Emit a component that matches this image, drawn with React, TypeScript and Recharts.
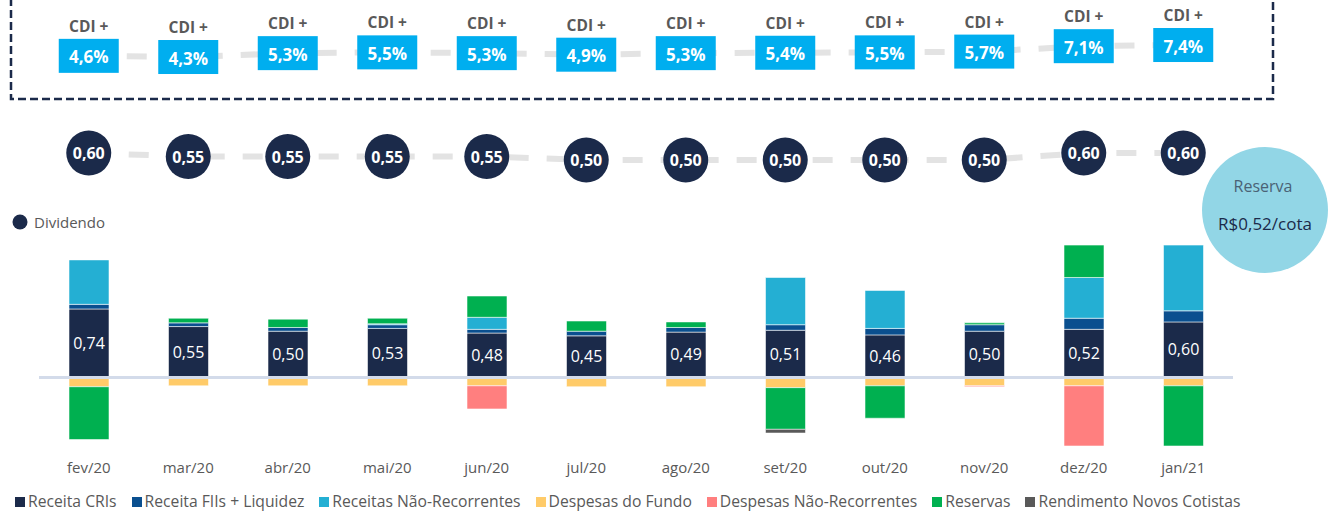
import React from "react";
import { ComposedChart, Bar, Line, XAxis, YAxis, ReferenceLine, LabelList, Legend } from "recharts";

const months = ["fev/20", "mar/20", "abr/20", "mai/20", "jun/20", "jul/20", "ago/20", "set/20", "out/20", "nov/20", "dez/20", "jan/21"];
const cdiSpread = [4.6, 4.3, 5.3, 5.5, 5.3, 4.9, 5.3, 5.4, 5.5, 5.7, 7.1, 7.4];
const dividendo = [0.6, 0.55, 0.55, 0.55, 0.55, 0.5, 0.5, 0.5, 0.5, 0.5, 0.6, 0.6];
const receitaCRIs = [0.74, 0.55, 0.5, 0.53, 0.48, 0.45, 0.49, 0.51, 0.46, 0.5, 0.52, 0.6];
const receitaFIIs = [0.05, 0.04, 0.04, 0.04, 0.04, 0.05, 0.05, 0.06, 0.07, 0.07, 0.12, 0.12];
const receitasNaoRec = [0.48, 0, 0, 0.01, 0.13, 0, 0, 0.51, 0.41, 0, 0.44, 0.71];
const despesasFundo = [-0.1, -0.09, -0.09, -0.09, -0.09, -0.1, -0.1, -0.11, -0.09, -0.09, -0.09, -0.09];
const despesasNaoRec = [0, 0, 0, 0, -0.25, 0, 0, 0, 0, -0.01, -0.65, 0];
const reservas = [-0.57, 0.05, 0.09, 0.06, 0.23, 0.11, 0.06, -0.45, -0.35, 0.02, 0.35, -0.65];
const novosCotistas = [0, 0, 0, 0, 0, 0, 0, -0.04, 0, 0, 0, 0];

const series = [
  { key: "cris", name: "Receita CRIs", color: "#1b2a4a" },
  { key: "fiis", name: "Receita FIIs + Liquidez", color: "#0a4f8f" },
  { key: "naoRec", name: "Receitas Não-Recorrentes", color: "#24afd3" },
  { key: "despFundo", name: "Despesas do Fundo", color: "#ffcb69" },
  { key: "despNaoRec", name: "Despesas Não-Recorrentes", color: "#ff7f7f" },
  { key: "reservas", name: "Reservas", color: "#00b050" },
  { key: "novos", name: "Rendimento Novos Cotistas", color: "#595959" },
];

const data = months.map((m, i) => ({
  month: m,
  cdi: cdiSpread[i],
  div: dividendo[i],
  cris: receitaCRIs[i],
  fiis: receitaFIIs[i],
  naoRec: receitasNaoRec[i],
  despFundo: despesasFundo[i],
  despNaoRec: despesasNaoRec[i],
  reservas: reservas[i],
  novos: novosCotistas[i],
}));

const FONT = "'Open Sans', sans-serif";
const fmt = (v: number, d = 2) => v.toFixed(d).replace(".", ",");

const CdiDot = (props: any) => {
  const { cx, cy, value, index } = props;
  return (
    <g key={`cdi-${index}`}>
      <text x={cx} y={cy - 30} textAnchor="middle" dominantBaseline="central" fontSize={15.5} fontWeight={700} fill="#595959" fontFamily={FONT}>
        CDI +
      </text>
      <rect x={cx - 30} y={cy - 17} width={60} height={34} fill="#00aeef" />
      <text x={cx} y={cy + 1} textAnchor="middle" dominantBaseline="central" fontSize={17} fontWeight={700} fill="#fff" fontFamily={FONT}>
        {fmt(value, 1)}%
      </text>
    </g>
  );
};

const DivDot = (props: any) => {
  const { cx, cy, value, index } = props;
  return (
    <g key={`div-${index}`}>
      <circle cx={cx} cy={cy} r={22.5} fill="#1b2a4a" />
      <text x={cx} y={cy} textAnchor="middle" dominantBaseline="central" fontSize={16} fontWeight={700} fill="#fff" fontFamily={FONT}>
        {fmt(value)}
      </text>
    </g>
  );
};

const BottomLegend = () => (
  <div style={{ display: "flex", gap: 15, paddingLeft: 15, paddingTop: 1, lineHeight: "17px", fontFamily: FONT, fontSize: 15.7, color: "#595959", whiteSpace: "nowrap", textAlign: "left" }}>
    {series.map((s) => (
      <span key={s.key} style={{ display: "flex", alignItems: "center" }}>
        <span style={{ display: "inline-block", width: 10, height: 10, background: s.color, marginRight: 3 }} />
        {s.name}
      </span>
    ))}
  </div>
);

export default function App() {
  return (
    <div style={{ position: "absolute", left: 0, top: 0, width: 1332, height: 512, background: "#fff", overflow: "hidden" }}>
      <ComposedChart width={1332} height={512} data={data} stackOffset="sign" barSize={40} margin={{ top: 0, right: 99, bottom: 0, left: 39 }}>
        <XAxis dataKey="month" height={46} tickLine={false} axisLine={false} tickMargin={10} tick={{ fill: "#595959", fontSize: 15, fontFamily: FONT }} />
        <YAxis yAxisId="bars" hide domain={[-0.74, 4.077]} allowDataOverflow />
        <YAxis yAxisId="div" hide domain={[-3.586, 2.786]} allowDataOverflow />
        <YAxis yAxisId="cdi" hide domain={[-96.2, 19.03]} allowDataOverflow />
        <Legend verticalAlign="bottom" height={20} wrapperStyle={{ left: 0, width: 1332 }} content={() => <BottomLegend />} />
        {series.map((s) => (
          <Bar key={s.key} yAxisId="bars" dataKey={s.key} name={s.name} stackId="a" fill={s.color} stroke="rgba(255,255,255,0.55)" strokeWidth={1} isAnimationActive={false}>
            {s.key === "cris" && (
              <LabelList dataKey="cris" position="center" fill="#fff" fontSize={16} fontFamily={FONT} formatter={(v: any) => fmt(Number(v))} />
            )}
          </Bar>
        ))}
        <ReferenceLine yAxisId="bars" y={0} stroke="#d3dbea" strokeWidth={3} />
        <Line yAxisId="div" dataKey="div" type="linear" stroke="#e3e3e3" strokeWidth={6} strokeDasharray="20 18" strokeDashoffset={-2} dot={DivDot} activeDot={false} legendType="none" isAnimationActive={false} />
        <Line yAxisId="cdi" dataKey="cdi" type="linear" stroke="#e3e3e3" strokeWidth={6} strokeDasharray="20 18" dot={CdiDot} activeDot={false} legendType="none" isAnimationActive={false} />
      </ComposedChart>
      <svg width={1332} height={512} style={{ position: "absolute", left: 0, top: 0, pointerEvents: "none" }}>
        <rect x={11} y={-20} width={1262} height={119} fill="none" stroke="#1b2a4a" strokeWidth={2.5} strokeDasharray="8 4" />
        <circle cx={20} cy={222} r={7.5} fill="#1b2a4a" />
        <text x={34} y={222} dominantBaseline="central" fontSize={15} fill="#595959" fontFamily={FONT}>
          Dividendo
        </text>
        <circle cx={1265} cy={210} r={63} fill="#92d6e6" />
        <text x={1263} y={186} textAnchor="middle" dominantBaseline="central" fontSize={16} fill="#4a6275" fontFamily={FONT}>
          Reserva
        </text>
        <text x={1265} y={223} textAnchor="middle" dominantBaseline="central" fontSize={17} fill="#1b2a4a" fontFamily={FONT}>
          R$0,52/cota
        </text>
      </svg>
    </div>
  );
}
